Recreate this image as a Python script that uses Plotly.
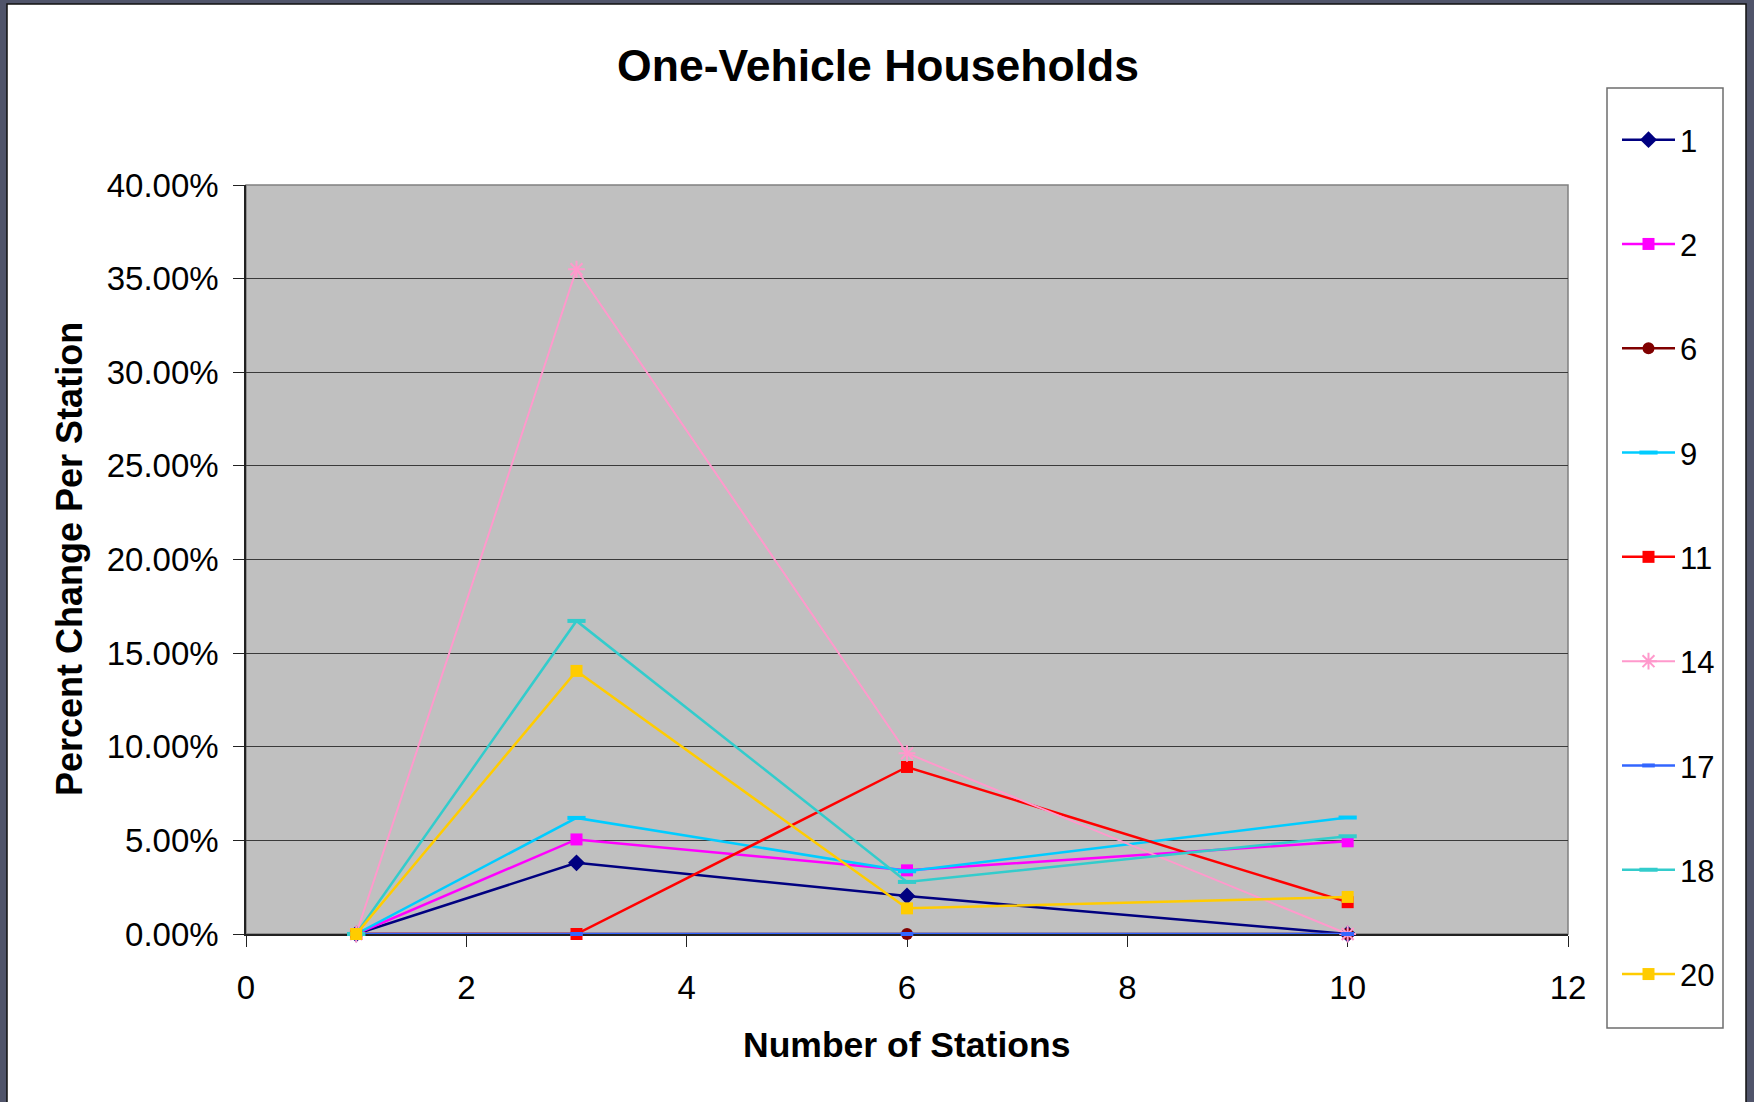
import plotly.graph_objects as go

# ---------------- data ----------------
stations = [1, 3, 6, 10]
series_names = ["1", "2", "6", "9", "11", "14", "17", "18", "20"]
s1 = [0.0, 0.0380, 0.0203, 0.0]
s2 = [0.0, 0.0505, 0.0340, 0.0495]
s6 = [0.0, 0.0, 0.0, 0.0]
s9 = [0.0, 0.0620, 0.0335, 0.0622]
s11 = [0.0, 0.0, 0.0892, 0.0170]
s14 = [0.0, 0.3550, 0.0965, 0.0]
s17 = [0.0, 0.0, 0.0, 0.0]
s18 = [0.0, 0.1672, 0.0278, 0.0522]
s20 = [0.0, 0.1405, 0.0137, 0.0198]
series_values = [s1, s2, s6, s9, s11, s14, s17, s18, s20]
y_ticks = [0, 0.05, 0.10, 0.15, 0.20, 0.25, 0.30, 0.35, 0.40]
x_ticks = [0, 2, 4, 6, 8, 10, 12]

# ---------------- styles ----------------
colors = ["#000080", "#FF00FF", "#800000", "#00CCFF", "#FF0000",
          "#FF99CC", "#3366FF", "#33CCCC", "#FFCC00"]
symbols = ["diamond", "square", "circle", "line-ew", "square",
           "asterisk-open", "line-ew", "line-ew", "square"]
sizes = [13, 12, 12, 13, 12, 14, 9, 13, 12]
line_widths = [2.5, 2.5, 2.5, 2.5, 2.5, 2.0, 2.5, 2.5, 2.5]

W, H = 1754, 1102
L, R, T, B = 246, 1568, 185, 934
FONT = "Liberation Sans, Arial, sans-serif"


def px_x(p):
    return (p - L) / (R - L)


def px_y(p):
    return (B - p) / (B - T)


fig = go.Figure()
for name, vals, c, sym, sz, lw in zip(series_names, series_values, colors,
                                      symbols, sizes, line_widths):
    open_sym = sym.startswith("line") or sym.endswith("open")
    fig.add_trace(go.Scatter(
        x=stations, y=vals, name=name, legendgroup=name,
        mode="lines+markers", cliponaxis=False,
        line=dict(color=c, width=lw),
        marker=dict(symbol=sym, size=sz, color=c,
                    line=dict(color=c, width=4 if sym == "line-ew" else (2 if open_sym else 0))),
    ))

shapes = [
    # white chart area inside the dark slide frame
    dict(type="rect", xref="paper", yref="paper", layer="below",
         x0=px_x(7), x1=px_x(1746), y0=px_y(4), y1=px_y(1115),
         fillcolor="white", line=dict(color="#111111", width=1.5)),
    # gray plot area
    dict(type="rect", xref="paper", yref="paper", layer="below",
         x0=0, x1=1, y0=0, y1=1,
         fillcolor="#C0C0C0", line=dict(color="#808080", width=1.5)),
    # legend frame
    dict(type="rect", xref="paper", yref="paper", layer="below",
         x0=px_x(1607), x1=px_x(1723), y0=px_y(1028), y1=px_y(88),
         fillcolor="white", line=dict(color="#6E6E6E", width=1.5)),
]

annotations = [
    dict(text="<b>Number of Stations</b>", xref="paper", yref="paper",
         x=px_x(906), y=px_y(1045), xanchor="center", yanchor="middle",
         showarrow=False, font=dict(family=FONT, size=35.5, color="black")),
    dict(text="<b>Percent Change Per Station</b>", xref="paper", yref="paper",
         x=px_x(69), y=px_y(559), xanchor="center", yanchor="middle",
         textangle=-90, showarrow=False,
         font=dict(family=FONT, size=36, color="black")),
]

fig.update_layout(
    width=W, height=H,
    margin=dict(l=L, r=W - R, t=T, b=H - B, pad=0),
    paper_bgcolor="#50546A",
    plot_bgcolor="rgba(0,0,0,0)",
    title=dict(text="<b>One-Vehicle Households</b>", xref="container", yref="container",
               x=878 / W, y=1 - 65 / H, xanchor="center", yanchor="middle",
               font=dict(family=FONT, size=44.5, color="black")),
    font=dict(family=FONT, color="black"),
    shapes=shapes,
    annotations=annotations,
    showlegend=True,
    legend=dict(
        x=px_x(1617), y=px_y(113), xanchor="left", yanchor="top",
        bgcolor="rgba(0,0,0,0)", borderwidth=0,
        font=dict(family=FONT, size=31, color="black"),
        traceorder="grouped", tracegroupgap=61,
        itemwidth=53, maxheight=1000,
    ),
    xaxis=dict(
        range=[0, 12], tickvals=x_ticks, ticktext=[str(v) for v in x_ticks],
        showgrid=False, zeroline=False, layer="below traces",
        showline=True, linecolor="#222222", linewidth=1.5,
        ticks="outside", ticklen=11, tickcolor="#222222", tickwidth=1,
        tickfont=dict(family=FONT, size=33, color="black"),
        ticklabelstandoff=13,
    ),
    yaxis=dict(
        range=[0, 0.40], tickvals=y_ticks, tickformat=".2%",
        showgrid=True, gridcolor="#3A3A3A", gridwidth=1.2,
        zeroline=False, layer="below traces",
        showline=True, linecolor="#222222", linewidth=1.5,
        ticks="outside", ticklen=11, tickcolor="#222222", tickwidth=1,
        tickfont=dict(family=FONT, size=33, color="black"),
        ticklabelstandoff=8,
    ),
)

fig.write_html("out.html", config={"displayModeBar": False},
               post_script="document.body.style.margin='0px';")
